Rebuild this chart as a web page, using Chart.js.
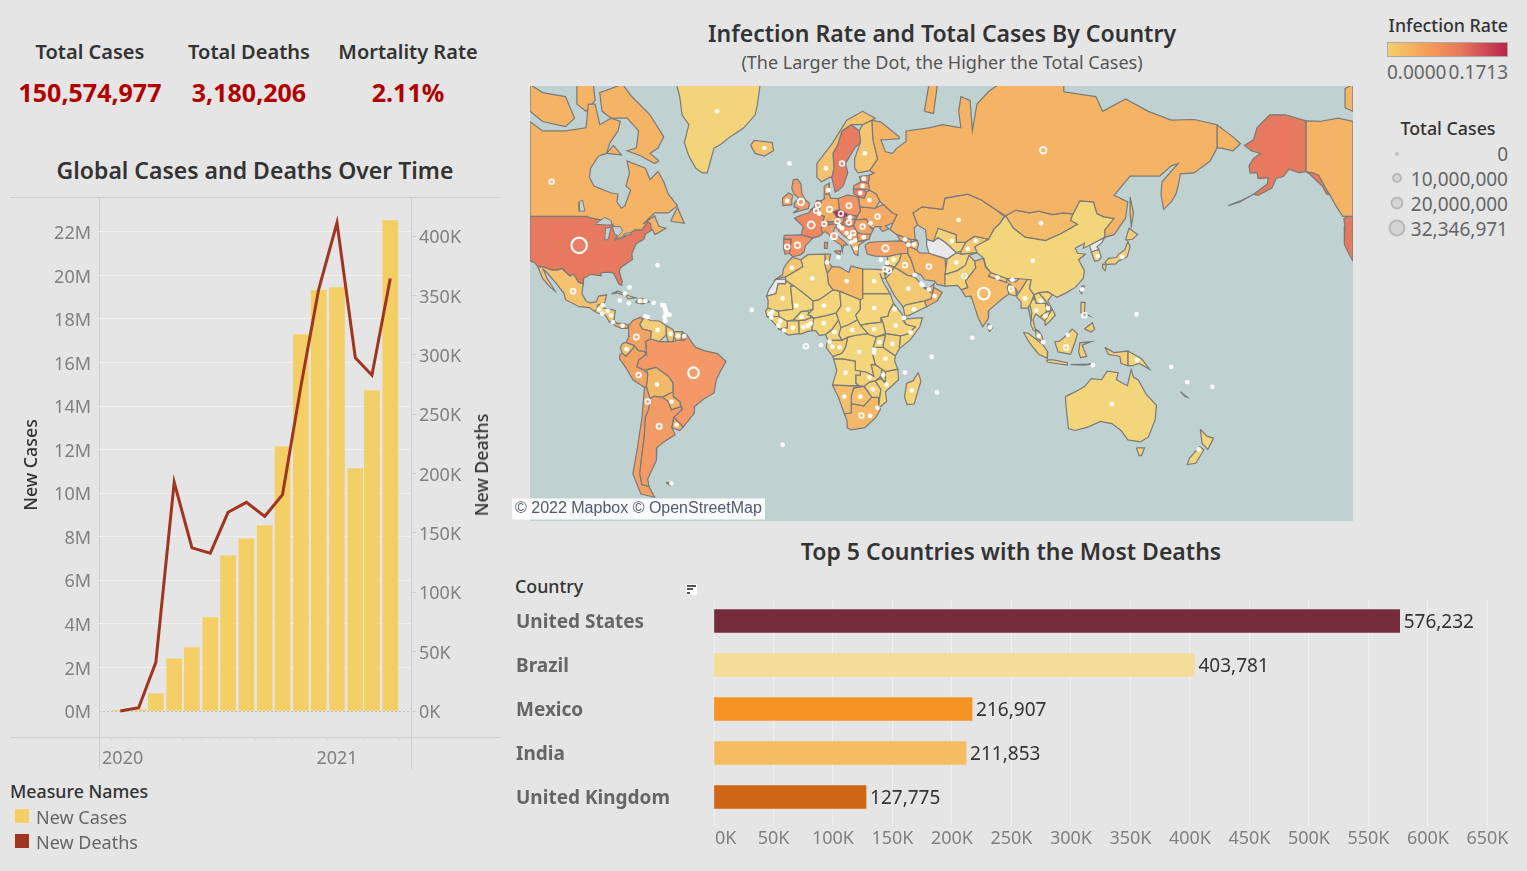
<!DOCTYPE html>
<html lang="en">

<head>
    <meta charset="UTF-8">
    <title>COVID-19 Dashboard</title>
    <script src="https://cdn.jsdelivr.net/npm/chart.js"></script>
    <style>
        html, body { margin: 0; padding: 0; width: 1527px; height: 871px; overflow: hidden; background: #e5e5e5; }
        body { position: relative; font-family: "Noto Sans", sans-serif; color: #333; }
        canvas { position: absolute; display: block; }
        .t { position: absolute; white-space: nowrap; transform: translate(-50%, -50%); }
        .l { position: absolute; white-space: nowrap; transform: translateY(-50%); }
        .r { position: absolute; white-space: nowrap; transform: translate(-100%, -50%); }
        .kpi { font-size: 20px; font-weight: 600; color: #333; }
        .num { font-size: 25px; font-weight: 700; color: #b00000; }
        .ttl { font-size: 23px; font-weight: 600; color: #333; }
        .leg { font-size: 19px; color: #666; }
        .hd { font-size: 17.8px; font-weight: 500; color: #333; }
        .rule { position: absolute; background: #cdcdcd; }
        .dot { position: absolute; border-radius: 50%; background: #d4d4d4; border: 2px solid #b8b8b8; box-sizing: border-box; transform: translate(-50%, -50%); }
    </style>
</head>

<body>

    <div class="t kpi" style="left:90px;top:51px">Total Cases</div>
    <div class="t kpi" style="left:249px;top:51px">Total Deaths</div>
    <div class="t kpi" style="left:408px;top:51px">Mortality Rate</div>
    <div class="t num" style="left:90px;top:92px">150,574,977</div>
    <div class="t num" style="left:249px;top:92px">3,180,206</div>
    <div class="t num" style="left:408px;top:92px">2.11%</div>

    <div class="t ttl" style="left:255px;top:170px">Global Cases and Deaths Over Time</div>
    <div class="rule" style="left:10px;top:197px;width:490px;height:1px"></div>
    <div class="rule" style="left:10px;top:737px;width:490px;height:1px"></div>
    <div class="rule" style="left:99px;top:197px;width:1px;height:572px"></div>
    <div class="rule" style="left:411px;top:197px;width:1px;height:572px"></div>
    <canvas id="grafico1" width="490" height="573" style="left:10px;top:197px"></canvas>
    <div class="t hd" style="left:30px;top:465px;transform:translate(-50%,-50%) rotate(-90deg)">New Cases</div>
    <div class="t hd" style="left:481px;top:465px;transform:translate(-50%,-50%) rotate(-90deg)">New Deaths</div>

    <div class="l hd" style="left:10px;top:791px">Measure Names</div>
    <div style="position:absolute;left:15px;top:809px;width:14px;height:14px;background:#f3cf65"></div>
    <div class="l leg" style="left:36px;top:817px;font-size:18px">New Cases</div>
    <div style="position:absolute;left:15px;top:834px;width:14px;height:14px;background:#a03520"></div>
    <div class="l leg" style="left:36px;top:842px;font-size:18px">New Deaths</div>

    <div class="t ttl" style="left:942px;top:33px">Infection Rate and Total Cases By Country</div>
    <div class="t" style="left:942px;top:62px;font-size:18px;color:#555">(The Larger the Dot, the Higher the Total Cases)</div>
    <canvas id="mapa" width="823" height="435" style="left:530px;top:86px;background:#c0d1d1"></canvas>
    <div class="l" style="left:512px;top:509px;width:253px;height:21px;line-height:21px;background:rgba(255,255,255,.9);font:16px 'Liberation Sans',sans-serif;color:#4f5b6e;text-indent:3px">© 2022 Mapbox © OpenStreetMap</div>

    <div class="r hd" style="left:1508px;top:25px">Infection Rate</div>
    <div style="position:absolute;left:1387px;top:42px;width:121px;height:15px;box-sizing:border-box;border:1px solid #aaa;background:linear-gradient(90deg,#f3d06a,#f79a58 35%,#e8795d 60%,#b9264a)"></div>
    <div class="l leg" style="left:1387px;top:72px">0.0000</div>
    <div class="r leg" style="left:1508px;top:72px">0.1713</div>
    <div class="t hd" style="left:1448px;top:128px">Total Cases</div>
    <div class="dot" style="left:1397px;top:154px;width:4px;height:4px;border-width:1px"></div>
    <div class="r leg" style="left:1508px;top:154px">0</div>
    <div class="dot" style="left:1397px;top:178px;width:10px;height:10px"></div>
    <div class="r leg" style="left:1508px;top:179px">10,000,000</div>
    <div class="dot" style="left:1397px;top:203px;width:13px;height:13px"></div>
    <div class="r leg" style="left:1508px;top:204px">20,000,000</div>
    <div class="dot" style="left:1397px;top:228px;width:17px;height:17px"></div>
    <div class="r leg" style="left:1508px;top:229px">32,346,971</div>

    <div class="t ttl" style="left:1011px;top:551px">Top 5 Countries with the Most Deaths</div>
    <div class="l hd" style="left:515px;top:586px">Country</div>
    <div style="position:absolute;left:686px;top:584px;width:11px;height:11px;background:#fff">
        <div style="position:absolute;left:1px;top:1px;width:9px;height:2px;background:#555"></div>
        <div style="position:absolute;left:1px;top:4px;width:6px;height:2px;background:#555"></div>
        <div style="position:absolute;left:1px;top:8px;width:3px;height:2px;background:#555"></div>
    </div>
    <canvas id="grafico2" width="1000" height="252" style="left:516px;top:599px"></canvas>

    <script>
        // ---- cases and deaths per month
        const mesesDias = [0, 31, 60, 91, 121, 152, 182, 213, 244, 274, 305, 335, 366, 397, 425, 456]  // days since 2020-01-01
        const newCases = [0.01, 0.06, 0.79, 2.40, 2.91, 4.29, 7.13, 7.91, 8.51, 12.14, 17.28, 19.31, 19.44, 11.13, 14.71, 22.52]  // millions
        const newDeaths = [0, 2.8, 41, 192.7, 137.4, 133, 167.4, 175.8, 164, 182.3, 273.6, 355, 411.3, 297.5, 282.9, 364.4]  // thousands

        // ---- top 5
        const topCountries = ["United States", "Brazil", "Mexico", "India", "United Kingdom"]
        const topDeaths = [576232, 403781, 216907, 211853, 127775]
        const topColors = ["#742c3c", "#f5dc98", "#f59423", "#f5bd60", "#cf6516"]

        // ---- map: [name, infection rate, outline as [lon, lat]]. lon runs -120.5..239.5 because the map wraps there
        const northAmerica = [
            ["Canada", .032, [[-120.5,49],[-95.2,49],[-94.6,48.7],[-89.6,48],[-88.4,48.3],[-84.9,46.9],[-83.5,46],[-82.5,45.3],[-82.4,43],[-83,42],[-79,42.8],[-79,43.5],[-76.5,44],[-74.7,45],[-71.5,45],[-70,46.5],[-69,47.4],[-67.8,47],[-67.5,45.5],[-66.9,45],[-65.8,43.5],[-61,45.5],[-64,46],[-65,47.5],[-66,49.2],[-71,46.8],[-66,50],[-60,50],[-56,52],[-60,55],[-62,58],[-64.5,60.3],[-68,58.5],[-70,61],[-78,62.5],[-77,60],[-78.5,57],[-76.5,56],[-79,52],[-80.5,51.3],[-82.5,53],[-82,55],[-85,55.3],[-92.5,57],[-94.5,59],[-94,61],[-90.5,63.5],[-87,64],[-85.5,66],[-82,68],[-81,69.5],[-85,70],[-90,69],[-92,72],[-95,72],[-96,68.5],[-105,68],[-115,68],[-120.5,69.5]]],
            ["Canada", .032, [[219,69.6],[219,60.3],[222,60],[224.5,59.5],[228,56],[229.5,54.7],[232,52],[235,49],[237.3,49],[239.5,49],[239.5,69.5],[233,70],[225,69.5]]],
            ["Baffin", .032, [[-64,62.5],[-66,62],[-72,63.5],[-78,64.5],[-74,65],[-73,68],[-78,70],[-85,70],[-89,71],[-90,73.5],[-80,74.5],[-76,73],[-68,70.5],[-62,67],[-64.5,65],[-68,64]]],
            ["Victoria", .032, [[-120.5,71],[-115,69.5],[-105,68.7],[-101,70],[-105,73],[-115,73.5],[-120.5,74.5]]],
            ["Banks", .032, [[236,71.5],[239.5,71],[239.5,74.5],[236,74]]],
            ["Somerset", .032, [[-100,72],[-96,71],[-92,72.5],[-93,75],[-100,75]]],
            ["Southampton", .032, [[-87,64],[-80.5,63.7],[-84,65.5]]],
            ["Newfoundland", .032, [[-59,47.6],[-53,47],[-56,51.5]]],
            ["United States", .097, [[-120.5,49],[-95.2,49],[-94.6,48.7],[-89.6,48],[-84.9,46.9],[-84,46],[-82.5,45.3],[-82.4,43],[-83,42],[-79,42.8],[-79,43.5],[-76.5,44],[-74.7,45],[-71.5,45],[-70,46.5],[-69,47.4],[-67.8,47],[-67,45],[-70,43.7],[-70.7,42],[-74,40.6],[-75.5,38],[-76,36.9],[-75.6,35.2],[-78,33.8],[-81,32],[-81.4,30.5],[-80.1,26.8],[-80.4,25.2],[-81.8,26],[-82.8,28],[-84,30],[-86,30.4],[-89.5,30.2],[-89.4,29],[-94,29.6],[-97,28],[-97.2,25.9],[-99.2,26.5],[-101.5,29.8],[-103,29],[-106.5,31.8],[-108.2,31.3],[-111,31.3],[-114.8,32.5],[-117.1,32.5],[-118.5,34],[-120.5,34.5]]],
            ["United States", .097, [[239.5,49],[237.3,49],[235.5,48.3],[236,46],[235.7,43],[235.7,40.4],[237.1,38],[238.5,36],[239.5,34.5]]],
            ["Alaska", .097, [[219,69.6],[219,60.3],[216,60],[211.5,60.8],[209,59.2],[206,58.8],[204,56.5],[198,54.7],[196,55],[202,57.5],[202.5,58.9],[198,58.7],[197.5,60],[194.5,60],[194,61.5],[196,63],[199,64],[195,64.5],[192,65.5],[196,66.5],[197.5,68.5],[203,70.5],[210,70.5]]],
            ["Alaska", .097, [[219,60.3],[222,60],[225,59.5],[228,56],[229.5,54.8],[228,55],[226,57],[224,58],[221,59.5]]],
            ["Aleutians", .097, [[196,55],[190,53],[185,52],[190,53.2]]],
            ["Greenland", .002, [[-58,76],[-19,76],[-21,72],[-22,70.5],[-27,68.5],[-33,67],[-37,65.7],[-40,65],[-43,60],[-45,60],[-48,61],[-51,63.5],[-53,66],[-51,69],[-54,70.5],[-55,73]]],
            ["Mexico", .018, [[-117.1,32.5],[-114.8,32.5],[-111,31.3],[-108.2,31.3],[-106.5,31.8],[-103,29],[-101.5,29.8],[-99.2,26.5],[-97.2,25.9],[-97.8,22],[-96,19],[-94.5,18.2],[-91.5,18.6],[-90.5,21],[-87,21.5],[-87.8,18.3],[-89,17.9],[-91,17.2],[-91,16],[-92.2,14.6],[-94.5,16.2],[-99,16.6],[-105,19.5],[-105.6,22],[-109.4,26.5],[-112.8,30],[-114.7,31.5],[-113,28],[-109.5,23],[-112,24.8],[-115,28]]],
            ["Central America", .012, [[-92.2,14.6],[-91,16],[-91,17.2],[-89,17.9],[-88.2,18.4],[-88.3,16],[-83.2,15],[-83.7,11],[-85.7,10],[-87.5,13],[-91,13.9]]],
            ["Costa Rica Panama", .05, [[-83.7,11],[-82.6,9.5],[-79.5,9.5],[-77.3,8.6],[-78,7.3],[-80.5,7.3],[-83,8.3],[-85.7,10]]],
            ["Cuba", .01, [[-84.9,21.9],[-82,23.1],[-77,21],[-74.2,20.2],[-77.7,19.9],[-78.5,21.2],[-82.5,22.3]]],
            ["Hispaniola", .01, [[-74.4,18.4],[-73,19.9],[-70,19.8],[-68.4,18.6],[-71.5,17.8]]],
        ]
        const southAmerica = [
            ["Colombia", .055, [[-77.3,8.6],[-75.5,10.7],[-72,12.2],[-71.3,11],[-72.5,9],[-71.3,7],[-67.5,6.1],[-67.8,2.8],[-70,1.5],[-69.5,-4.2],[-70.3,-2.7],[-73,-2.4],[-75,-0.1],[-78.5,1.2],[-77.2,3.8],[-77.4,7]]],
            ["Venezuela", .008, [[-71.3,11],[-72.5,9],[-71.3,7],[-67.5,6.1],[-67.8,2.8],[-64,1.5],[-60.9,4.5],[-61,8.5],[-64,10.5],[-68,10.7],[-70,12],[-71.6,10.9]]],
            ["Guyana", .015, [[-60.9,4.5],[-61,8.5],[-58,6.8],[-57.3,5],[-58,1.5],[-60,1.5]]],
            ["Suriname", .02, [[-57.3,5.9],[-54,5.9],[-54.3,2.3],[-56.5,2],[-58,4]]],
            ["French Guiana", .03, [[-54,5.8],[-51.7,4.3],[-52.8,2.3],[-54.3,2.3]]],
            ["Ecuador", .022, [[-78.5,1.2],[-75,-0.1],[-75.5,-1.5],[-78.5,-4.8],[-80.3,-3.4],[-81,-1],[-80,0.7]]],
            ["Peru", .055, [[-81.3,-4.5],[-80.3,-3.4],[-78.5,-4.8],[-75.5,-1.5],[-75,-0.1],[-73,-2.4],[-70.3,-2.7],[-70,-4.2],[-73,-6.5],[-73.8,-9.5],[-70.6,-10.9],[-69,-12.5],[-69.5,-17.5],[-70.4,-18.3],[-75.5,-15],[-78.5,-10],[-81.3,-6]]],
            ["Bolivia", .026, [[-69.5,-10.9],[-65.4,-9.7],[-60,-13.5],[-58,-16.3],[-58,-20],[-62.6,-22.2],[-66.3,-21.8],[-68,-22.8],[-69.6,-17.5],[-69,-12.5]]],
            ["Paraguay", .03, [[-62.6,-22.2],[-58,-20],[-57.8,-22.1],[-55,-24],[-54.6,-26],[-58.6,-27.2],[-60,-24]]],
            ["Brazil", .068, [[-51.7,4.3],[-50,1.5],[-48,-1],[-44,-2.5],[-38.5,-3.7],[-34.8,-7.1],[-37,-11],[-39,-15],[-40,-20.5],[-44.5,-23],[-48.5,-26],[-48.6,-28.5],[-53.4,-33.7],[-57.6,-30.2],[-53.8,-27],[-54.6,-25.5],[-55,-24],[-57.8,-22.1],[-58,-20],[-58,-16.3],[-60,-13.5],[-65.4,-9.7],[-70.6,-10.9],[-73.8,-9.5],[-73,-6.5],[-70,-4.2],[-69.5,-1],[-70,1.5],[-67.8,2.8],[-64,1.5],[-60,1.5],[-60.9,4.5],[-58,1.5],[-56.5,2],[-54.3,2.3],[-52.8,2.3]]],
            ["Uruguay", .04, [[-57.6,-30.2],[-53.4,-33.7],[-55,-35],[-58.4,-34]]],
            ["Argentina", .065, [[-66.3,-21.8],[-62.6,-22.2],[-60,-24],[-58.6,-27.2],[-54.6,-26],[-53.8,-27],[-57.6,-30.2],[-58.4,-34],[-57,-36.5],[-62,-39],[-65,-41],[-65.2,-45],[-69,-50.5],[-68.5,-52.5],[-71.5,-52],[-72.5,-49],[-71.5,-43],[-70.5,-37],[-70,-30],[-68.5,-27],[-68,-22.8]]],
            ["Chile", .058, [[-69.6,-17.5],[-68,-22.8],[-68.5,-27],[-70,-30],[-70.5,-37],[-71.5,-43],[-72.5,-49],[-71.5,-52],[-68.5,-52.5],[-66,-55.3],[-72,-54.5],[-75.5,-49],[-73.5,-41],[-71.5,-30],[-70.4,-18.3]]],
            ["Falklands", .02, [[-61,-51.5],[-58,-51.5],[-59,-52.3]]],
        ]
        const africa = [
            ["Morocco", .014, [[-5.9,35.8],[-2,35],[-1.2,32.5],[-5,30.5],[-8.7,28.7],[-13,27.7],[-10,29.5],[-9.7,31.5],[-8.5,33.3]]],
            ["Western Sahara", null, [[-13,27.7],[-8.7,27.7],[-8.7,26],[-12,26],[-13,22],[-17,21],[-16,23.5]]],
            ["Algeria", .003, [[-2,35],[1,36.8],[8.5,37],[8.5,33],[9.5,30],[10,26],[12,23.5],[5.8,19.4],[3.3,19],[1.2,20.7],[-4.8,25],[-8.7,27.3],[-8.7,28.7],[-5,30.5],[-1.2,32.5]]],
            ["Tunisia", .026, [[8.5,37],[11,37],[10.2,34],[11.5,32.5],[9.5,30],[8.5,33]]],
            ["Libya", .025, [[11.5,32.5],[15,32.3],[19,30.3],[20,32.7],[25,31.6],[25,20],[24,19.5],[15,23],[12,23.5],[10,26],[9.5,30]]],
            ["Egypt", .002, [[25,31.6],[31,31.5],[34.2,31.3],[35,28],[33.5,28],[32.5,30],[34,26.5],[37,22],[25,22]]],
            ["Sudan", .001, [[25,22],[37,22],[38.5,18],[36.5,14.5],[36,12.5],[33,12],[33,10],[28,9.5],[24,8.7],[22.8,11],[22,13],[24,15.5],[24,19.5],[25,20]]],
            ["South Sudan", .001, [[24,8.7],[28,9.5],[33,10],[33,12],[34,9.5],[35,5],[31,3.6],[28,4.5],[27.4,5]]],
            ["Chad", .001, [[15,23],[24,19.5],[24,15.5],[22,13],[22.8,11],[19,9],[15.5,7.7],[14,12.5],[13.5,14],[15.5,16.9]]],
            ["Niger", .001, [[12,23.5],[15,23],[15.5,16.9],[13.5,14],[9,12.8],[3.6,11.7],[2.8,12.5],[1,13.3],[3.3,15.5],[3.3,19],[5.8,19.4]]],
            ["Mali", .001, [[-4.8,25],[1.2,20.7],[3.3,19],[3.3,15.5],[1,14.9],[-2,14.5],[-5.3,11],[-8,10.5],[-11.3,12.2],[-12,14.7],[-5.5,15.5],[-6.5,25]]],
            ["Mauritania", .004, [[-8.7,27.3],[-4.8,25],[-6.5,25],[-5.5,15.5],[-12,14.7],[-16.5,16],[-16.3,19],[-17,21],[-13,22],[-12,26],[-8.7,26]]],
            ["Senegal", .003, [[-16.5,16],[-12,14.7],[-11.3,12.5],[-16.8,12.4],[-17.5,14.7]]],
            ["Guinea", .002, [[-16.8,12.4],[-11.3,12.5],[-8,10.5],[-8,7.6],[-11.5,6.9],[-13.3,9],[-15,11]]],
            ["Ivory Coast", .002, [[-8,10.5],[-5.3,10.5],[-3,10.7],[-2.8,5],[-7.5,4.4],[-11.5,6.9],[-8,7.6]]],
            ["Burkina Faso", .001, [[-5.3,11],[-2,14.5],[1,14.9],[2.4,12],[0,11],[-3,10.7]]],
            ["Ghana", .003, [[-3,10.7],[0,11],[2.4,12],[3.6,11.7],[2.7,6.3],[1,6],[-2,4.8],[-2.8,5]]],
            ["Nigeria", .001, [[2.7,6.3],[3.6,11.7],[9,12.8],[13.5,14],[14.5,11],[11.5,6.8],[8.7,4.6],[6,4.3],[4.5,6.3]]],
            ["Cameroon", .003, [[8.7,4.6],[11.5,6.8],[14.5,11],[14,12.5],[15.5,10],[15.5,7.7],[14.5,4.5],[16,2.2],[9.8,2.2]]],
            ["Central African Rep", .001, [[15.5,7.7],[19,9],[22.8,11],[24,8.7],[27.4,5],[22,4.3],[18.5,3.5],[16,2.2],[14.5,4.5]]],
            ["Gabon Congo", .008, [[9.8,2.2],[16,2.2],[18.5,3.5],[17.5,-1],[16,-3.5],[12,-5],[9,-1]]],
            ["DR Congo", .001, [[18.5,3.5],[22,4.3],[27.4,5],[31,3.6],[29.6,-1],[29.5,-4.5],[30.5,-8.5],[28.7,-8.5],[29.8,-13.4],[27,-11.8],[22,-11],[21.8,-7],[16.5,-6],[12.3,-6],[12,-5],[16,-3.5],[17.5,-1]]],
            ["Uganda", .001, [[31,3.6],[35,4.5],[34,0.5],[33.9,-1],[29.6,-1]]],
            ["Kenya", .003, [[35,5],[41.5,4],[41,-1.7],[39.3,-4.7],[34,-1],[34,0.5],[35,4.5]]],
            ["Ethiopia", .002, [[36.5,14.5],[38.5,18],[43,12.5],[42.5,11],[44,9],[48,8],[45,5],[41.5,4],[35,5],[34,9.5],[33,12],[36,12.5]]],
            ["Somalia", .001, [[43,11.3],[51.2,11.9],[50,8],[46,2.5],[41,-1.7],[41.5,4],[45,5],[48,8],[44,9]]],
            ["Tanzania", .001, [[33.9,-1],[39.3,-4.7],[39,-7],[40.4,-10.5],[34.9,-11.5],[30.5,-8.5],[29.5,-4.5],[29.6,-1]]],
            ["Angola", .001, [[12.3,-6],[16.5,-6],[21.8,-7],[22,-11],[24,-11],[24,-13],[22,-13],[22,-16.5],[23.3,-17.5],[18.5,-17.5],[11.8,-17.2],[13.7,-11]]],
            ["Zambia", .005, [[22,-13],[24,-13],[24,-11],[27,-11.8],[29.8,-13.4],[28.7,-8.5],[30.5,-8.5],[33.5,-9.5],[33,-13.5],[30.5,-15.5],[28,-16],[25.5,-17.8],[23.3,-17.5],[22,-16.5]]],
            ["Mozambique", .002, [[40.4,-10.5],[40.7,-15],[35,-20],[35.5,-24],[32.8,-26],[32,-26],[32.5,-22.3],[33,-19],[30.5,-15.5],[33,-14.5],[35,-16.5],[35,-11.5]]],
            ["Malawi", .002, [[33.5,-9.5],[34.9,-11.5],[35,-16.5],[33,-14]]],
            ["Zimbabwe", .003, [[25.5,-17.8],[28,-16],[30.5,-15.5],[33,-19],[32.5,-22.3],[29,-22.2],[26,-18]]],
            ["Namibia", .02, [[11.8,-17.2],[18.5,-17.5],[25,-17.7],[21,-18.5],[20,-22],[20,-28.4],[17,-28.8],[14.5,-22.5]]],
            ["Botswana", .019, [[21,-18.5],[25.5,-17.8],[29,-22.2],[25.5,-25.7],[20,-24.8],[20,-22]]],
            ["South Africa", .026, [[17,-28.8],[20,-28.4],[20,-24.8],[25.5,-25.7],[29,-22.2],[32,-22.3],[32,-26],[32.8,-27],[31,-30],[26,-34],[20,-34.8],[18.3,-34],[18.2,-31.5]]],
            ["Madagascar", .002, [[49.3,-12],[50.5,-15.5],[47.5,-25],[44.5,-25.2],[43.3,-22],[44.3,-16.5],[47,-15.5]]],
        ]
        const europe = [
            ["Portugal", .081, [[-9.5,42],[-6.3,42],[-7,37.2],[-9,37],[-9.5,38.8]]],
            ["Spain", .075, [[-9.3,43.3],[-1.8,43.4],[3.2,42.4],[0,39.8],[-0.7,37.7],[-2.2,36.7],[-5.5,36],[-7,37.2],[-6.3,42],[-9.5,42]]],
            ["France", .083, [[-1.8,43.4],[3.2,42.4],[6,43],[7.5,43.8],[6.9,46],[8.2,49],[6,49.5],[4.5,50],[2.5,51],[1.5,50],[-1.5,49.5],[-4.8,48.5],[-1,46]]],
            ["Great Britain", .066, [[-5.5,50],[1.3,51.2],[1.7,52.7],[0,53.5],[-1.5,55],[-2,57.5],[-3.5,58.6],[-5.3,58.5],[-6,56.5],[-5,55],[-3,54],[-4.8,52.8],[-5,51.7],[-3,51.2]]],
            ["Ireland", .05, [[-10,52],[-6.2,52.2],[-6,53.5],[-5.6,54.7],[-7.3,55.3],[-10,54]]],
            ["Iceland", .018, [[-24,65.5],[-22,64],[-18,63.5],[-14,64.5],[-14.5,66],[-18,66.2],[-22.5,66.4]]],
            ["Norway", .018, [[5,59],[7,58],[10.5,59],[11.5,59],[12.5,61],[12,64],[14,65.5],[16,68],[20,69],[25,69],[29,69.7],[30.5,70],[25,71],[18,69.7],[12,66],[5,62]]],
            ["Sweden", .094, [[11.5,59],[13,55.5],[14.5,56],[16.5,57],[18.5,60],[17.5,62],[21.5,65],[24,66],[23.5,68],[20,69],[16,68],[14,65.5],[12,64],[12.5,61]]],
            ["Finland", .016, [[24,66],[21.5,63],[21.5,61],[23,60],[28,60.5],[31.5,62.9],[29.5,66.5],[29,69.7],[25,69],[23.5,68]]],
            ["Denmark", .043, [[8.2,55],[8.2,57],[10.5,57.7],[10.3,55]]],
            ["Netherlands", .082, [[3.5,51.4],[4.5,52.7],[5,53.4],[7,53.3],[6,51]]],
            ["Belgium", .082, [[2.5,51],[3.5,51.4],[6,51],[6,49.5],[4.5,50]]],
            ["Germany", .04, [[6,51],[7,53.3],[8.5,54],[8.2,55],[10.3,55],[11,54],[14.2,53.9],[14.8,51],[12,50.3],[13.8,48.7],[13,47.5],[7.6,47.6],[8.2,49],[6,49.5]]],
            ["Switzerland", .075, [[6,46.2],[7.6,47.6],[9.6,47.5],[10.4,46.6],[8.5,46]]],
            ["Austria", .068, [[9.6,47.5],[13,47.5],[13.8,48.7],[17,48.7],[16.2,46.8],[12.2,46.8]]],
            ["Italy", .065, [[7,44],[6.9,46],[8.5,46],[10.4,46.6],[12.2,46.8],[13.7,46.5],[12.3,45],[12.5,44],[16,41.9],[18.5,40.2],[16.6,40],[16.1,38],[15.7,40],[12.2,41.8],[10.3,43.5],[8.8,44.4]]],
            ["Sicily", .065, [[12.5,38],[15.6,38.2],[15,36.7]]],
            ["Sardinia", .065, [[8.3,41],[9.7,41],[9.5,39],[8.5,39]]],
            ["Czechia", .1713, [[12,50.3],[14.8,51],[18.8,49.5],[17,48.7],[13.8,48.7]]],
            ["Poland", .072, [[14.2,53.9],[18.5,54.8],[23,54.3],[24,50.5],[22.7,49.2],[18.8,49.5],[14.8,51]]],
            ["Slovakia", .07, [[17,48.7],[18.8,49.5],[22.5,49],[22,48.4],[18,47.8]]],
            ["Hungary", .079, [[16.2,46.8],[17,48],[18,47.8],[22,48.4],[21,46.3],[18.8,45.9]]],
            ["Romania", .055, [[21,46.3],[22,48],[26.6,48.2],[28.2,46],[29.6,45],[28.6,43.7],[25,43.7],[22.7,44.2]]],
            ["Bulgaria", .057, [[22.7,44.2],[25,43.7],[28.6,43.7],[27.8,42],[23,41.3]]],
            ["Balkans", .07, [[13.6,45.5],[13.7,46.5],[16.2,46.8],[18.8,45.9],[21,46.3],[22.7,44.2],[23,41.3],[20.5,41],[19.3,41.8],[16,43.5]]],
            ["Greece", .03, [[19.3,41.8],[20.5,41],[23,41.3],[26.3,41.5],[23.5,40.2],[23,38.5],[23,36.5],[21.5,37],[19.5,40.5]]],
            ["Estonia", .08, [[23.5,59.2],[28,59.5],[27.5,57.7],[24.3,58]]],
            ["Latvia", .07, [[21,57],[24.3,58],[27.5,57.7],[28,56],[25,56.3],[21,56.2]]],
            ["Lithuania", .085, [[21,56.2],[25,56.3],[26.6,55.5],[25.7,54],[23.3,54.3],[21,55.2]]],
            ["Belarus", .037, [[23.3,54.3],[25.7,54],[26.6,55.5],[28,56],[31,55],[32.5,53.2],[30.5,51.3],[24,51.7],[23.5,52.5]]],
            ["Ukraine", .045, [[24,51.7],[30.5,51.3],[34,52.3],[38,50],[40,49.5],[38.2,47.1],[35,46.2],[36.5,45.3],[33.7,44.5],[32.5,45.5],[33,46],[30.5,46],[29.6,45.3],[28.2,46],[26.6,48.2],[22,48],[22.7,49.2],[24,50.5]]],
            ["Turkey", .055, [[26,40],[27,37],[30.5,36.3],[36,36.2],[42,37.2],[44.7,37.2],[44.7,39.7],[43.5,41.1],[41.5,41.5],[36,41.3],[31.5,41.2],[28,41]]],
        ]
        const asia = [
            ["Russia", .032, [[28,59.5],[30,60],[28,60.5],[31.5,62.9],[29.5,66.5],[29,69.7],[33,69.4],[41,67],[41,66.7],[35,66.5],[33,66.5],[35,64.3],[38,64],[40,65],[44,66.2],[44,68],[54,68.5],[60,69],[68,68.5],[67,71],[68,73],[72,72.5],[73,68],[75,72],[80,73.6],[87,75],[113,75],[113,73.6],[127,73],[130,71],[140,72.7],[150,71],[160,69.7],[170,69.8],[180,69],[180,65],[177,62.5],[170,60],[164,59.8],[163,57],[162,55],[160,53],[156.7,51],[155.5,55],[156,58],[163,62],[160,61.5],[155,59.3],[142,59.3],[135,54.7],[141,53],[140,48.5],[135,43.5],[131,42.7],[131,45],[135,48.4],[130.5,48.9],[127.5,49.8],[126,53],[120,53.3],[117,49.7],[113,50],[108,49.5],[102,50.5],[98,50],[92,50.8],[87.5,49.2],[83,51],[77,53.5],[71,55],[61,54],[60,51],[51,51.7],[47,50],[49,46.5],[47.5,45.5],[48,42],[48.5,41.8],[46,42],[40,43.5],[37,45],[38.2,47.1],[40,49.5],[38,50],[34,52.3],[32.5,53.2],[31,55],[28,56],[27.5,57.7]]],
            ["Russia", .032, [[180,69],[187,67],[190.3,65.8],[187,64.5],[182,65],[180,65]]],
            ["Sakhalin", .032, [[142,54.3],[143.5,50],[142.5,46],[142,50]]],
            ["Novaya Zemlya", .032, [[52,71],[56,70.7],[58,75],[54,74.5]]],
            ["Kazakhstan", .026, [[47,50],[51,51.7],[60,51],[61,54],[71,55],[77,53.5],[83,51],[87,49],[85,47],[82.5,45.3],[80,42],[74,43],[70,41],[66,41],[66,43.5],[58,45.5],[56,41.3],[53,42],[52.5,45],[49,46.5]]],
            ["Turkmenistan", null, [[53,42],[56,41.3],[58,42.5],[61,41],[66,37.5],[62,35.3],[54,37.3],[53,40]]],
            ["Uzbekistan", .003, [[56,41.3],[56,45],[58,45.5],[66,43.5],[66,41],[70,41],[68,38],[66,37.5],[61,41],[58,42.5]]],
            ["Kyrgyzstan", .014, [[70,41],[74,43],[80,42],[74,39.5],[75,37.5],[68,37],[68,38]]],
            ["China", .0001, [[73.5,39.5],[80,42],[82.5,45.3],[85,47],[87.5,49.2],[91,45.5],[96,42.7],[105,41.6],[111.5,43.7],[119,46.7],[116,47.8],[117,49.7],[120,53.3],[126,53],[127.5,49.8],[130.5,48.9],[135,48.4],[131,45],[131,42.7],[128,41.5],[124.3,40],[121.5,39],[122,40.7],[118,39],[119,37.3],[122.5,37],[119.5,35],[122,31],[121.5,28],[118,24.5],[114,22.3],[110,20.5],[108,21.6],[106,22.8],[102,22.4],[100,21.5],[98,24],[98.7,27.5],[92,28],[88,28],[81,30.3],[79,32.5],[78,35.5],[75,37.5],[74,39.5]]],
            ["Mongolia", .024, [[87.5,49.2],[92,50.8],[98,50],[102,50.5],[108,49.5],[113,50],[117,49.7],[116,47.8],[119,46.7],[111.5,43.7],[105,41.6],[96,42.7],[91,45.5]]],
            ["North Korea", null, [[124.3,40],[128,41.5],[131,42.7],[129.7,41],[127.5,39.5],[128.3,38.6],[125,37.8]]],
            ["South Korea", .003, [[125,37.8],[128.3,38.6],[129.4,36],[128.5,34.8],[126.5,34.4]]],
            ["Honshu", .006, [[130.9,33.9],[132.5,35.5],[136,35.8],[137,37],[139.7,38.5],[141,41.3],[142,39.5],[140.7,36],[137,34.6],[135.7,33.5],[132,33.3]]],
            ["Kyushu", .006, [[130,33.5],[131.7,33],[131,31],[130,32]]],
            ["Hokkaido", .006, [[140,41.7],[141.5,45.5],[145.3,43.5],[143,42]]],
            ["Taiwan", .001, [[121,25.2],[122,25],[120.8,22],[120,23]]],
            ["India", .024, [[68.2,23.5],[71,24.4],[70,27],[74.5,32],[74,34.5],[77.8,35.5],[78.7,32.5],[81,30.3],[80,28.8],[88,26.4],[88.2,27.8],[89.8,26.7],[92,26.8],[95,29],[97.3,28],[94.5,24],[93,22],[92,24],[89,26],[88.2,24.5],[89,21.7],[86.5,20.2],[82,16.5],[80.2,15],[80,11.5],[77.5,8],[75.5,12],[72.8,20],[72.5,21],[70,20.8]]],
            ["Pakistan", .004, [[61,25],[66.5,25.3],[68.2,23.5],[71,24.4],[70,27],[74.5,32],[74,34.5],[71.5,36.5],[70,33],[66.5,31],[61,29.5]]],
            ["Afghanistan", .002, [[61,29.5],[66.5,31],[70,33],[71.5,36.5],[75,37.5],[68,37],[66,37.5],[62,35.3]]],
            ["Iran", .03, [[44.7,39.7],[44.7,37.2],[46,35.5],[48,30.3],[50.5,29.5],[52,27.5],[56.5,27],[57.5,25.7],[61.5,25],[61,29.5],[61.5,31],[61,35.5],[54,37.3],[50,37.4],[48.7,38.4]]],
            ["Iraq", .025, [[42,37.2],[44.7,37.2],[46,35.5],[48,30.3],[47.6,29.9],[46.5,29],[44.7,29.2],[39,32.3],[41,34.5]]],
            ["Syria", .002, [[36,36.2],[42,37.2],[41,34.5],[39,32.3],[36,33.2],[35.8,35]]],
            ["Jordan", .06, [[35,29.5],[39,32.3],[36,33.2],[35.5,31.5]]],
            ["Israel", .09, [[34.2,31.3],[35,33],[36,33.2],[35.5,31.5],[35,29.5]]],
            ["Saudi Arabia", .012, [[35,28],[36.5,29.3],[39,32.3],[44.7,29.2],[46.5,29],[48.5,28],[50,26.5],[51.5,24.5],[55.5,22],[55,20],[52,19],[44,17.4],[42.7,16.5],[39,21],[37,24.5]]],
            ["Yemen", .0005, [[42.7,16.5],[44,17.4],[52,19],[53,16.6],[45,12.8],[43.5,12.7]]],
            ["Oman", .037, [[55.5,22],[56.3,24.5],[59.8,22.5],[57.7,19],[53,16.6],[52,19],[55,20]]],
            ["UAE", .05, [[51.5,24.5],[54,24.2],[56.3,26],[55.5,22]]],
            ["Georgia", .045, [[40,43.5],[46,42],[46.5,41],[43.5,41.1],[41.5,41.5]]],
            ["Azerbaijan", .03, [[43.5,41.1],[46.5,41],[48.5,41.8],[49.5,40.5],[48.7,38.4],[44.7,39.7]]],
            ["Myanmar", .003, [[92.3,20.7],[93,22],[94.5,24],[97.3,28],[98.7,27.5],[98,24],[100,21.5],[98.5,18],[97.5,16.5],[98.7,10.5],[97.5,16],[94.5,16],[94.3,18.5]]],
            ["Laos", .0002, [[100,21.5],[102,22.4],[105,19],[107.5,15],[105.5,14.5],[105,18],[101,18]]],
            ["Thailand", .001, [[98,18],[100,20.3],[101,18],[105,18],[105.5,14.5],[102.5,12.2],[100.8,13.5],[99.5,11],[100.5,7],[102,6],[99.7,6.5],[98.5,9],[99,14]]],
            ["Vietnam", .0001, [[102,22.4],[106,22.8],[108,21.6],[106,19],[109.3,13],[107,10.5],[105,8.7],[104.8,10.5],[107.5,15],[105,19]]],
            ["Cambodia", .001, [[102.5,12.2],[105.5,14.5],[107.5,14.5],[107,11],[104.8,10.5]]],
            ["Malaysia", .012, [[100.5,7],[102,6],[103.5,4],[104,1.4],[101,3]]],
            ["Bangladesh", .005, [[89,26],[92,24],[92.3,21],[89,21.7],[88.2,24.5]]],
            ["Nepal", .01, [[80,28.8],[81,30.3],[88,28],[88,26.4]]],
            ["Sri Lanka", .005, [[79.8,9.5],[81.8,7.5],[80.5,6],[79.8,7.5]]],
            ["Sumatra", .006, [[95.3,5.6],[97.5,5.2],[104,0],[106,-3],[105.8,-5.8],[102,-4],[98,1]]],
            ["Java", .006, [[105.3,-6.5],[108.5,-6.5],[114.5,-7.7],[114.5,-8.7],[106,-7.5]]],
            ["Borneo", .006, [[109,1.5],[111,1.6],[113,3.2],[116.7,7],[119,5],[117.8,1],[116,-4],[110.5,-3]]],
            ["Sulawesi", .006, [[119.5,-3],[120,1],[125,1.5],[121,0],[123,-5],[120.3,-5.5]]],
            ["Sunda", .006, [[116,-8.5],[125,-8.3],[122,-8.8]]],
            ["Papua", .006, [[131,-1],[135,-3.3],[141,-2.6],[141,-9],[138,-8],[137.5,-5],[132.5,-4]]],
            ["Luzon", .009, [[120.5,18.5],[122.3,18.3],[122,14],[124,12.8],[120.5,14]]],
            ["Mindanao", .009, [[122,7],[125.5,9.7],[126.5,7],[125,5.7]]],
        ]
        const oceania = [
            ["Papua New Guinea", .001, [[141,-2.6],[147,-6],[150.5,-10.5],[146,-8],[143,-9],[141,-9]]],
            ["Australia", .001, [[113.7,-22],[114,-26],[115,-34.3],[118,-35],[123.5,-33.8],[129,-31.7],[134,-32.5],[138,-35],[141,-38.3],[146.5,-39],[150,-37.3],[153,-31],[153.5,-25.5],[149,-21],[145.5,-15],[143.5,-14],[142.5,-10.7],[140.8,-17.5],[136,-15],[136.8,-12],[132,-11.3],[129.5,-15],[125,-14.5],[122,-18],[117,-20.5]]],
            ["Tasmania", .001, [[144.7,-41],[148.3,-41],[147,-43.5],[146,-43.5]]],
            ["NZ North", .001, [[172.7,-34.5],[175.5,-37],[178.5,-37.7],[176,-41.5],[173.5,-39.5]]],
            ["NZ South", .001, [[172.5,-40.5],[174.3,-41.7],[170.7,-45.9],[167,-46.3],[168,-44.3]]],
            ["New Caledonia", .001, [[164,-20],[167,-22.3],[166,-22]]],
        ]
        const lakes = [
            [[-92,46.7],[-88,48.7],[-85,47.8],[-84.6,46.5],[-87,46.5]],
            [[-87.8,41.7],[-86.3,42],[-85,45.8],[-87.5,45.5]],
            [[-84.5,46],[-81,46],[-80,44.6],[-82,43],[-83.5,43.8]],
            [[-83.3,41.7],[-79,42.7],[-79,43],[-83,42.2]],
            [[-79.7,43.3],[-76.2,43.5],[-76.5,44.1],[-79,43.9]],
            [[-99,50.5],[-96.5,50.5],[-97.5,53.5],[-99,53]],
        ]

        // total cases in millions: [lon, lat, cases]
        const dotsAmericas = [[-99,40,32.35],[-111,58,1.2],[-38.7,71,.001],[-101.7,23,2.3],[-49,-12,14.5],[-73,-13,1.75],[-74,3.5,2.8],[-64,-33.5,2.9],[-69,-24,1.1],[-78.2,-1.8,.37],[-64.7,6.6,.19],[-65,-17,.3],[-58.6,-24,.25],[-56.4,-33,.17],[-59,5,.01],[-55.8,4,.01],[-53,3.9,.02],[-58.6,-51.7,.001],[-79,22,.1],[-77.3,18,.045],[-72.5,19,.013],[-70,19,.26],[-66.4,18.2,.13],[-77,24.5,.01],[-61.8,17.1,.001],[-62.7,17.3,.001],[-61.4,15.4,.001],[-61,13.9,.004],[-61.2,13.2,.002],[-59.5,13.2,.003],[-61.7,12.1,.001],[-61.3,10.5,.01],[-61.5,16.2,.01],[-61,14.6,.01],[-70,12.5,.012],[-69,12.2,.012],[-88.7,17.2,.013],[-90.3,15.5,.22],[-86.5,14.8,.2],[-88.9,13.7,.07],[-85,12.9,.007],[-84.2,10,.25],[-80,8.5,.36],[-64.7,33,.002],[-81.2,19.2,.001]]
        const dotsEurope = [[2.5,46.5,5.6],[-3.5,40,3.5],[-2,53,4.4],[10.5,51,3.3],[12.5,43,3.9],[19,52,2.7],[31.5,49,2],[35,39,4.6],[16,62,.95],[9,61,.1],[26,64,.09],[-18,65,.006],[15.5,49.8,1.6],[5.5,52.2,1.4],[4.7,50.6,.95],[8.2,46.8,.65],[14,47.6,.6],[19,47.2,.77],[25,46,1.05],[25.5,42.7,.39],[20.8,44,.67],[16,45.5,.33],[14.8,46.1,.23],[19.5,48.7,.38],[22,39,.33],[-8,39.5,.83],[-8,53.3,.24],[10,56,.25],[28,53.5,.35],[24,55.3,.25],[25,57,.12],[25.5,58.7,.12],[28.5,47,.25],[20,41,.13],[21.7,41.6,.15],[18,44,.2],[19.3,42.7,.1],[33,35,.07],[14.4,35.9,.03],[6,49.8,.06],[-7,62,.001],[43.5,42,.3],[45,40.2,.22],[47.5,40.3,.3]]
        const dotsAsia = [[104,64.6,4.7],[78,22,18],[54,32.5,2.4],[43.5,33,1],[45,24,.4],[35,31.5,.84],[36.5,31,.7],[35.8,33.9,.5],[38.5,35,.02],[47.7,29.4,.28],[51.2,25.4,.2],[50.6,26,.18],[54,23.7,.5],[56.5,21,.19],[47.5,15.5,.006],[69.5,29,.8],[66,34,.06],[67,48,.3],[64,41.5,.09],[74.5,41.5,.1],[71,38.8,.01],[103,47,.03],[99.4,34.6,.1],[84,28.3,.3],[90,24,.75],[90.5,27.5,.001],[80.7,7.7,.1],[96,20,.14],[101,15,.06],[103,19,.001],[106,16,.003],[105,12.7,.012],[102,4,.4],[104,1.3,.12],[114,-1,1.65],[122,13,1],[138.5,36,.56],[127.8,36.3,.12],[121,23.7,.001],[73,3.2,.03],[114.8,4.5,.001]]
        const dotsAfrica = [[30,27,.23],[18,27,.17],[9.5,34,.31],[3,28,.12],[-6,32,.51],[-10,20,.018],[-4,17,.014],[8,17,.005],[18.7,15.5,.005],[30,16,.03],[30,7,.01],[39.5,8.6,.25],[46,5.5,.014],[38,.5,.16],[32.5,1.3,.04],[35,-6,.0005],[23.5,-3,.03],[15,-1,.01],[11.7,-.7,.024],[10.5,1.6,.007],[12.7,5.7,.07],[20.5,6.6,.006],[8,9.6,.16],[2.3,9.5,.008],[1,8.5,.012],[-1,7.9,.093],[-5.5,7.6,.047],[-1.7,12.3,.013],[-9.4,6.4,.002],[-11.8,8.5,.004],[-11,10.5,.022],[-15,12,.004],[-14.5,14.5,.04],[-15.5,13.4,.006],[-23.5,15.2,.02],[6.8,0,.002],[.2,-.5,.8],[17.5,-12,.025],[28,-14,.09],[34,-13,.034],[35.5,-17,.07],[29.5,-19,.038],[17,-22,.05],[24,-22,.045],[24.5,-29.5,1.57],[28.3,-29.6,.01],[31.5,-26.5,.018],[46.5,-19.5,.035],[57.5,-20.3,.001],[43.5,-11.9,.004],[55.2,-5.1,.005],[30,-2,.025],[30,-3.4,.004],[43,11.8,.01],[39,15.5,.003],[-10,-40,.001]]
        const dotsOceania = [[134,-25,.03],[172,-41.5,.003],[145,-6.5,.01],[178,-18,.001],[160,-9.5,.001],[167,-16,.001],[125.7,-8.8,.001],[144.8,13.4,.001]]

        const rampaTaxa = [0, .03, .07, .095, .1713]
        const rampaCor = [[243,214,124], [244,180,101], [243,151,102], [232,123,96], [185,38,74]]

        const corDaTaxa = (taxa) => {
            if (taxa === null) return "#e9e9e9"
            let i = 0
            while (i < rampaTaxa.length - 2 && taxa > rampaTaxa[i + 1]) i++
            const f = Math.min(1, (taxa - rampaTaxa[i]) / (rampaTaxa[i + 1] - rampaTaxa[i]))
            const c = rampaCor[i].map((v, k) => Math.round(v + (rampaCor[i + 1][k] - v) * f))
            return `rgb(${c[0]},${c[1]},${c[2]})`
        }

        // web mercator, the y axis of the map is in these units
        const merc = (lat) => Math.asinh(Math.tan(lat * Math.PI / 180)) * 180 / Math.PI
        const fechar = (pts) => pts.concat([pts[0]]).map(p => ({ x: p[0], y: merc(p[1]) }))
        const raioDoPonto = (casos) => Math.max(2.4, .5 + 7.2 * Math.sqrt(casos / 32.35))

        Chart.defaults.font.family = '"Noto Sans", sans-serif'
        Chart.defaults.animation = false

        // the labels at the ends of an axis must not push the plot area in
        const semMargemX = (s) => { s.paddingLeft = 0; s.paddingRight = 0 }
        const semMargemY = (s) => { s.paddingTop = 0; s.paddingBottom = 0 }

        // ---- line + bars
        const linhaZero = {
            id: 'linhaZero',
            beforeDatasetsDraw(chart) {
                const { ctx, chartArea, scales } = chart
                const y = Math.round(scales.y.getPixelForValue(0)) + .5
                ctx.save()
                ctx.strokeStyle = '#bdbdbd'
                ctx.setLineDash([2, 2])
                ctx.beginPath()
                ctx.moveTo(chartArea.left, y)
                ctx.lineTo(chartArea.right, y)
                ctx.stroke()
                ctx.restore()
            }
        }

        new Chart(document.getElementById('grafico1'), {
            type: 'bar',
            data: {
                datasets: [{
                    type: 'line',
                    label: 'New Deaths',
                    data: mesesDias.map((d, i) => ({ x: d, y: newDeaths[i] })),
                    yAxisID: 'y1',
                    borderColor: '#a03520',
                    borderWidth: 3,
                    pointRadius: 0,
                    tension: 0,
                    order: 0
                }, {
                    label: 'New Cases',
                    data: mesesDias.map((d, i) => ({ x: d, y: newCases[i] })),
                    backgroundColor: '#f3cf65',
                    barThickness: 15,
                    order: 1
                }]
            },
            options: {
                responsive: false,
                layout: { autoPadding: false },
                plugins: { legend: { display: false }, tooltip: { enabled: false } },
                scales: {
                    x: {
                        type: 'linear',
                        offset: false,
                        min: -36,
                        max: 491,
                        afterFit: (s) => { s.height = 33; semMargemX(s) },
                        afterBuildTicks: (s) => { s.ticks = mesesDias.map(v => ({ value: v })) },
                        border: { display: false },
                        grid: { drawOnChartArea: false, color: '#d5d5d5', tickLength: 3 },
                        ticks: {
                            autoSkip: false,
                            maxRotation: 0,
                            padding: 8,
                            color: '#808080',
                            font: { size: 18 },
                            callback: (v) => v === 0 ? ' 2020' : v === 366 ? '2021' : ''
                        }
                    },
                    y: {
                        position: 'left',
                        min: -1.194,
                        max: 23.6,
                        afterFit: (s) => { s.width = 89; semMargemY(s) },
                        border: { display: false },
                        grid: { color: (c) => c.tick.value === 0 ? 'transparent' : '#f0f0f0', drawTicks: false },
                        ticks: {
                            stepSize: 2,
                            includeBounds: false,
                            padding: 8,
                            labelOffset: 2,
                            color: '#808080',
                            font: { size: 18 },
                            callback: (v) => v + 'M'
                        }
                    },
                    y1: {
                        position: 'right',
                        min: -21.9,
                        max: 433,
                        afterFit: (s) => { s.width = 89; semMargemY(s) },
                        border: { display: false },
                        grid: { drawOnChartArea: false, color: '#cfcfcf', tickLength: 5 },
                        ticks: {
                            stepSize: 50,
                            includeBounds: false,
                            padding: 3,
                            labelOffset: 2,
                            color: '#808080',
                            font: { size: 18 },
                            callback: (v) => v + 'K'
                        }
                    }
                }
            },
            plugins: [linhaZero]
        })

        // ---- map
        const terras = [...northAmerica, ...southAmerica, ...africa, ...europe, ...asia, ...oceania]
        const pontos = [...dotsAmericas, ...dotsEurope, ...dotsAsia, ...dotsAfrica, ...dotsOceania]

        const ehAnel = (c) => c.raw && c.raw.casos >= .6

        const dsPontos = {
            type: 'bubble',
            label: 'Total Cases',
            data: pontos.map(p => ({ x: p[0], y: merc(p[1]), r: raioDoPonto(p[2]), casos: p[2] })),
            backgroundColor: (c) => ehAnel(c) ? 'rgba(255,255,255,.05)' : 'rgba(255,255,255,.92)',
            borderColor: 'rgba(255,255,255,.95)',
            borderWidth: (c) => ehAnel(c) ? Math.min(2.2, 1.3 + c.raw.r / 6) : 0,
            order: 0
        }
        const dsLagos = lakes.map(l => ({
            type: 'scatter', showLine: true, data: fechar(l), fill: 'shape',
            backgroundColor: '#c0d1d1', borderColor: '#7a7a7a', borderWidth: 1, pointRadius: 0, tension: 0, order: 1
        }))
        const dsTerras = terras.map(t => ({
            type: 'scatter', showLine: true, label: t[0], data: fechar(t[2]), fill: 'shape',
            backgroundColor: corDaTaxa(t[1]), borderColor: '#7a7a7a', borderWidth: 1.2, pointRadius: 0, tension: 0, order: 2
        }))

        new Chart(document.getElementById('mapa'), {
            type: 'scatter',
            data: { datasets: [dsPontos, ...dsLagos, ...dsTerras] },
            options: {
                responsive: false,
                layout: { autoPadding: false },
                plugins: { legend: { display: false }, tooltip: { enabled: false } },
                scales: {
                    x: { type: 'linear', display: false, min: -120.5, max: 239.5 },
                    y: { type: 'linear', display: false, min: merc(-60.8), max: merc(74.3) }
                }
            }
        })

        // ---- top 5 bars
        const rotuloBarra = {
            id: 'rotuloBarra',
            afterDatasetsDraw(chart) {
                const { ctx, scales } = chart
                ctx.save()
                ctx.font = '19px "Noto Sans", sans-serif'
                ctx.fillStyle = '#333'
                ctx.textBaseline = 'middle'
                topDeaths.forEach((v, i) => {
                    ctx.fillText(v.toLocaleString('en-US'), scales.x.getPixelForValue(v / 1000) + 4, scales.y.getPixelForValue(i) + 2)
                })
                ctx.restore()
            }
        }

        new Chart(document.getElementById('grafico2'), {
            type: 'bar',
            data: {
                labels: topCountries,
                datasets: [{
                    label: 'Deaths',
                    data: topDeaths.map(v => v / 1000),
                    backgroundColor: topColors,
                    barThickness: 23
                }]
            },
            options: {
                indexAxis: 'y',
                responsive: false,
                layout: { autoPadding: false },
                plugins: { legend: { display: false }, tooltip: { enabled: false } },
                scales: {
                    x: {
                        min: 0,
                        max: 674,
                        afterFit: (s) => { s.height = 32; semMargemX(s) },
                        border: { display: false },
                        grid: { color: '#f0f0f0', tickLength: 7 },
                        ticks: {
                            stepSize: 50,
                            includeBounds: false,
                            autoSkip: false,
                            maxRotation: 0,
                            padding: 2,
                            color: '#808080',
                            font: { size: 18 },
                            callback: (v) => v === 0 ? '     0K' : v + 'K'
                        }
                    },
                    y: {
                        afterFit: (s) => { s.width = 198; semMargemY(s) },
                        border: { display: false },
                        grid: { display: false },
                        ticks: {
                            crossAlign: 'far',
                            labelOffset: 2,
                            color: '#666',
                            font: { size: 19, weight: 700 }
                        }
                    }
                }
            },
            plugins: [rotuloBarra]
        })
    </script>

</body>

</html>
